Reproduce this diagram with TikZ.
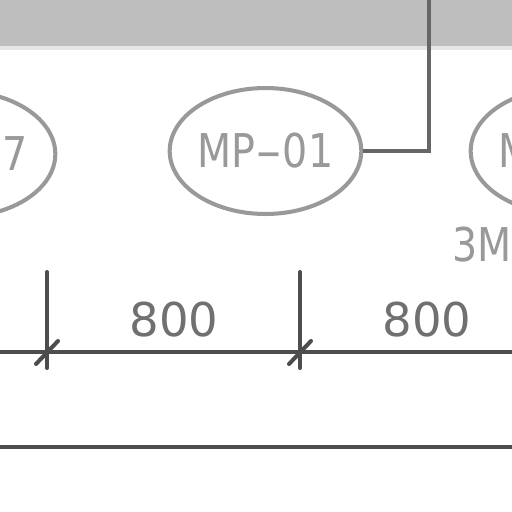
\documentclass[tikz,border=0pt]{standalone}
\usepackage{fontspec}
\setmainfont{DejaVu Sans}
\newfontfamily\tagfont[FakeStretch=0.85]{DejaVu Sans}
\usetikzlibrary{shapes.geometric}
\newcommand{\longdash}{\scalebox{1.9}[1]{-}}
\definecolor{band}{HTML}{BEBEBE}
\definecolor{bandedge}{HTML}{E6E6E6}
\definecolor{tagcol}{HTML}{999999}
\definecolor{wirecol}{HTML}{666666}
\definecolor{dimcol}{HTML}{4D4D4D}
\definecolor{dimtext}{HTML}{707070}
\tikzset{
tag/.style={draw=tagcol,line width=2.3pt,text=tagcol,ellipse,inner sep=0pt,minimum width=3.74cm,minimum height=2.52cm,font=\tagfont\fontsize{26.5}{26.5}\selectfont},
wire/.style={draw=wirecol,line width=2.3pt},
dimline/.style={draw=dimcol,line width=1.9pt},
ticks/.style={draw=dimcol,line width=2.3pt,line cap=round},
dimlabel/.style={text=dimtext,inner sep=0pt,font=\fontsize{26.5}{26.5}\selectfont}
}
\begin{document}
\begin{tikzpicture}[x=0.02cm,y=-0.02cm]
\useasboundingbox (0,0) rectangle (512,512);

\fill[bandedge] (0,44) rectangle (512,50);
\fill[band] (0,0) rectangle (512,46);

\node (mp07) at (-40.5,154)[tag]{MP\longdash 07};
\node (mp01) at (265.5,151)[tag]{MP\longdash 01};
\node (mp02) at (566.5,151)[tag]{MP\longdash 02};
\node (rating) at (452,245)[anchor=west,inner sep=0pt,text=tagcol,font=\tagfont\fontsize{26.5}{26.5}\selectfont]{3M};

\coordinate (feed) at (429,0);
\draw[wire] (mp01.east) -| (feed);

\coordinate (dimleft) at (0,352);
\coordinate (dimright) at (512,352);
\draw[dimline] (dimleft) -- (dimright);
\foreach \x/\n in {47/a,300/b}
{
\coordinate (top\n) at (\x,272);
\coordinate (bot\n) at (\x,368);
\draw[ticks] (top\n) -- (bot\n);
\draw[ticks] (\x-11,364) -- (\x+11,341);
}

\node (span1) at (174,320)[dimlabel]{800};
\node (span2) at (427,320)[dimlabel]{800};

\coordinate (baseleft) at (0,447);
\coordinate (baseright) at (512,447);
\draw[dimline] (baseleft) -- (baseright);

\end{tikzpicture}
\end{document}
